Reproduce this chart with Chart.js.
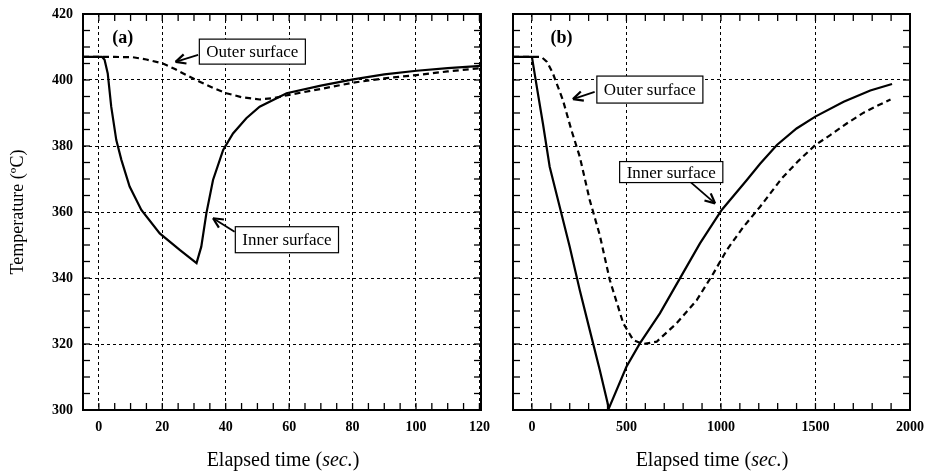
<!DOCTYPE html>
<html>
<head>
<meta charset="utf-8">
<script src="https://cdn.jsdelivr.net/npm/chart.js@4.4.0/dist/chart.umd.min.js"></script>
<style>
  body { margin: 0; background: #fff; width: 926px; height: 476px; position: relative; overflow: hidden; font-family: 'Liberation Serif', serif; }
  canvas { position: absolute; top: 0; }
  #chartA { left: 0; }
  #chartB { left: 490px; }
  .xtitle { position: absolute; top: 449px; width: 240px; font-size: 20px; line-height: 20px; text-align: center; color: #000; }
</style>
</head>
<body>
<canvas id="chartA" width="490" height="476"></canvas>
<canvas id="chartB" width="436" height="476"></canvas>
<div class="xtitle" style="left:163px">Elapsed time (<i>sec.</i>)</div>
<div class="xtitle" style="left:592px">Elapsed time (<i>sec.</i>)</div>
<script>
// shared temperature axis (deg C)
const tempTicks = [300, 320, 340, 360, 380, 400, 420];

// panel (a): 0-120 sec
const aTicksX = [0, 20, 40, 60, 80, 100, 120];
const aInnerTime = [-5, 0, 1, 1.8, 2.8, 3.9, 5.5, 7.1, 9.7, 13.4, 19.2, 25.5, 30.8, 32.3, 33.9, 36, 39.2, 42.3, 46.5, 50.7, 59.2, 70, 80.2, 90, 100.2, 110, 120.5];
const aInnerTemp = [407, 407, 407, 406.1, 402, 391.9, 381.8, 375.8, 367.7, 360.6, 353.5, 348.5, 344.5, 349.5, 359.6, 369.7, 378.8, 383.8, 388.4, 391.9, 396, 398.3, 400.2, 401.7, 402.8, 403.6, 404.3];
const aOuterTime = [-5, 0, 5, 10.7, 15, 20.2, 24, 27.6, 31.8, 36, 40.2, 45, 50.7, 55, 60, 70, 80.2, 90, 100.2, 110, 120.5];
const aOuterTemp = [407, 407, 407, 406.9, 406.2, 405, 403.3, 401.5, 399.5, 397.6, 396, 394.8, 394.1, 394.5, 395.5, 397.3, 399.2, 400.5, 401.5, 402.6, 403.6];

// panel (b): 0-2000 sec
const bTicksX = [0, 500, 1000, 1500, 2000];
const bInnerTime = [-100, 0, 30, 58, 94, 147, 200, 253, 306, 359, 407, 500, 571, 677, 783, 889, 1004, 1137, 1207, 1296, 1400, 1499, 1649, 1790, 1905];
const bInnerTemp = [407, 407, 396.5, 386.9, 373.7, 361.6, 349.5, 336.4, 324.2, 312.1, 300.5, 313.1, 320.2, 329.3, 339.9, 350.5, 360.6, 369.7, 374.6, 380.3, 385.3, 388.9, 393.4, 396.8, 398.8];
const bOuterTime = [-100, 0, 50, 80, 111, 164, 209, 253, 306, 359, 412, 483, 536, 589, 660, 766, 872, 960, 1031, 1119, 1207, 1322, 1410, 1499, 1578, 1667, 1755, 1835, 1897];
const bOuterTemp = [407, 407, 407, 405.5, 402, 393.9, 384.8, 376.8, 363.6, 353, 339.4, 326.3, 321.2, 320, 320.7, 326.3, 333.3, 341.4, 348.5, 355.5, 361.6, 370.2, 375.5, 380.3, 383.3, 386.9, 390.1, 392.4, 394.1];

const FONT = "'Liberation Serif', serif";

function pts(xs, ys) {
  return xs.map((v, i) => ({ x: v, y: ys[i] }));
}

// frame, inward ticks and the callout labels
const decor = {
  id: 'decor',
  afterDraw(chart, args, o) {
    const { ctx, chartArea: a, scales: { x, y } } = chart;
    const seg = (x1, y1, x2, y2) => { ctx.beginPath(); ctx.moveTo(x1, y1); ctx.lineTo(x2, y2); ctx.stroke(); };
    ctx.save();
    ctx.strokeStyle = '#000';
    ctx.lineWidth = 1.3;
    for (let v = Math.ceil(x.min / o.xStep) * o.xStep; v <= x.max; v += o.xStep) {
      const p = x.getPixelForValue(v);
      seg(p, a.bottom, p, a.bottom - 7);
      seg(p, a.top, p, a.top + 7);
    }
    for (let v = y.min; v <= y.max; v += o.yStep) {
      const p = y.getPixelForValue(v);
      seg(a.left, p, a.left + 7, p);
      seg(a.right, p, a.right - 7, p);
    }
    ctx.lineWidth = 2;
    ctx.strokeRect(a.left, a.top, a.right - a.left, a.bottom - a.top);

    o.notes.forEach(n => {
      if (n.arrow) {
        const [t1, c1, t2, c2] = n.arrow;
        const x1 = x.getPixelForValue(t1), y1 = y.getPixelForValue(c1);
        const x2 = x.getPixelForValue(t2), y2 = y.getPixelForValue(c2);
        const ang = Math.atan2(y2 - y1, x2 - x1);
        ctx.lineWidth = 1.8;
        seg(x1, y1, x2, y2);
        ctx.lineWidth = 2.2;
        [0.45, -0.45].forEach(d => seg(x2, y2, x2 - 11 * Math.cos(ang + d), y2 - 11 * Math.sin(ang + d)));
      }
      const cx = x.getPixelForValue(n.x), cy = y.getPixelForValue(n.y);
      ctx.font = (n.bold ? 'bold ' : '') + n.size + 'px ' + FONT;
      ctx.textAlign = 'center';
      ctx.textBaseline = 'middle';
      if (n.h) {
        const w = ctx.measureText(n.text).width + 14;
        ctx.fillStyle = '#fff';
        ctx.fillRect(cx - w / 2, cy - n.h / 2, w, n.h);
        ctx.lineWidth = 1.2;
        ctx.strokeRect(cx - w / 2, cy - n.h / 2, w, n.h);
      }
      ctx.fillStyle = '#000';
      ctx.fillText(n.text, cx, cy + 1);
    });
    ctx.restore();
  }
};

function makeChart(id, opt) {
  return new Chart(document.getElementById(id), {
    type: 'line',
    data: {
      datasets: [
        { data: opt.inner, borderColor: '#000', borderWidth: 2.2, pointRadius: 0, tension: 0 },
        { data: opt.outer, borderColor: '#000', borderWidth: 2.2, borderDash: [6, 4], pointRadius: 0, tension: 0 }
      ]
    },
    options: {
      responsive: false,
      animation: false,
      events: [],
      layout: { padding: { top: 14, right: opt.padRight, bottom: 0, left: 0 } },
      plugins: {
        legend: { display: false },
        tooltip: { enabled: false },
        decor: { xStep: opt.xStep, yStep: 5, notes: opt.notes }
      },
      scales: {
        x: {
          type: 'linear',
          min: opt.xMin,
          max: opt.xMax,
          afterBuildTicks: s => { s.ticks = opt.xTicks.map(v => ({ value: v })); },
          afterFit: s => { s.height = 66; s.paddingLeft = 0; s.paddingRight = 0; },
          grid: { color: '#000', lineWidth: 1, drawTicks: false },
          border: { display: false, dash: [3, 3] },
          ticks: { color: '#000', padding: 9, callback: v => String(v), font: { family: FONT, size: 14, weight: 'bold' } }
        },
        y: {
          min: 300,
          max: 420,
          afterBuildTicks: s => { s.ticks = tempTicks.map(v => ({ value: v })); },
          afterFit: s => { s.width = opt.yWidth; s.paddingTop = 0; s.paddingBottom = 0; },
          grid: { color: '#000', lineWidth: 1, drawTicks: false },
          border: { display: false, dash: [3, 3] },
          ticks: { display: opt.yLabels, color: '#000', padding: 10, callback: v => String(v), font: { family: FONT, size: 14, weight: 'bold' } },
          title: {
            display: opt.yLabels,
            text: 'Temperature (ºC)',
            color: '#000',
            padding: { top: 7, bottom: 0 },
            font: { family: FONT, size: 18 }
          }
        }
      }
    },
    plugins: [decor]
  });
}

makeChart('chartA', {
  inner: pts(aInnerTime, aInnerTemp),
  outer: pts(aOuterTime, aOuterTemp),
  xMin: -5, xMax: 120.5, xTicks: aTicksX, xStep: 5,
  yWidth: 83, yLabels: true, padRight: 9,
  notes: [
    { text: '(a)', x: 7.5, y: 413, bold: true, size: 18 },
    { text: 'Outer surface', x: 48.4, y: 408.6, size: 17, h: 25, arrow: [31.3, 407.6, 24.2, 405.5] },
    { text: 'Inner surface', x: 59.3, y: 351.6, size: 17, h: 26, arrow: [42.8, 354, 36, 358.1] }
  ]
});

makeChart('chartB', {
  inner: pts(bInnerTime, bInnerTemp),
  outer: pts(bOuterTime, bOuterTemp),
  xMin: -100, xMax: 2000, xTicks: bTicksX, xStep: 100,
  yWidth: 23, yLabels: false, padRight: 16,
  notes: [
    { text: '(b)', x: 156, y: 413, bold: true, size: 18 },
    { text: 'Outer surface', x: 624, y: 397.1, size: 17, h: 27, arrow: [332, 396.4, 217, 394.2] },
    { text: 'Inner surface', x: 737, y: 372.1, size: 17, h: 21, arrow: [836, 369.2, 969, 362.6] }
  ]
});
</script>
</body>
</html>
